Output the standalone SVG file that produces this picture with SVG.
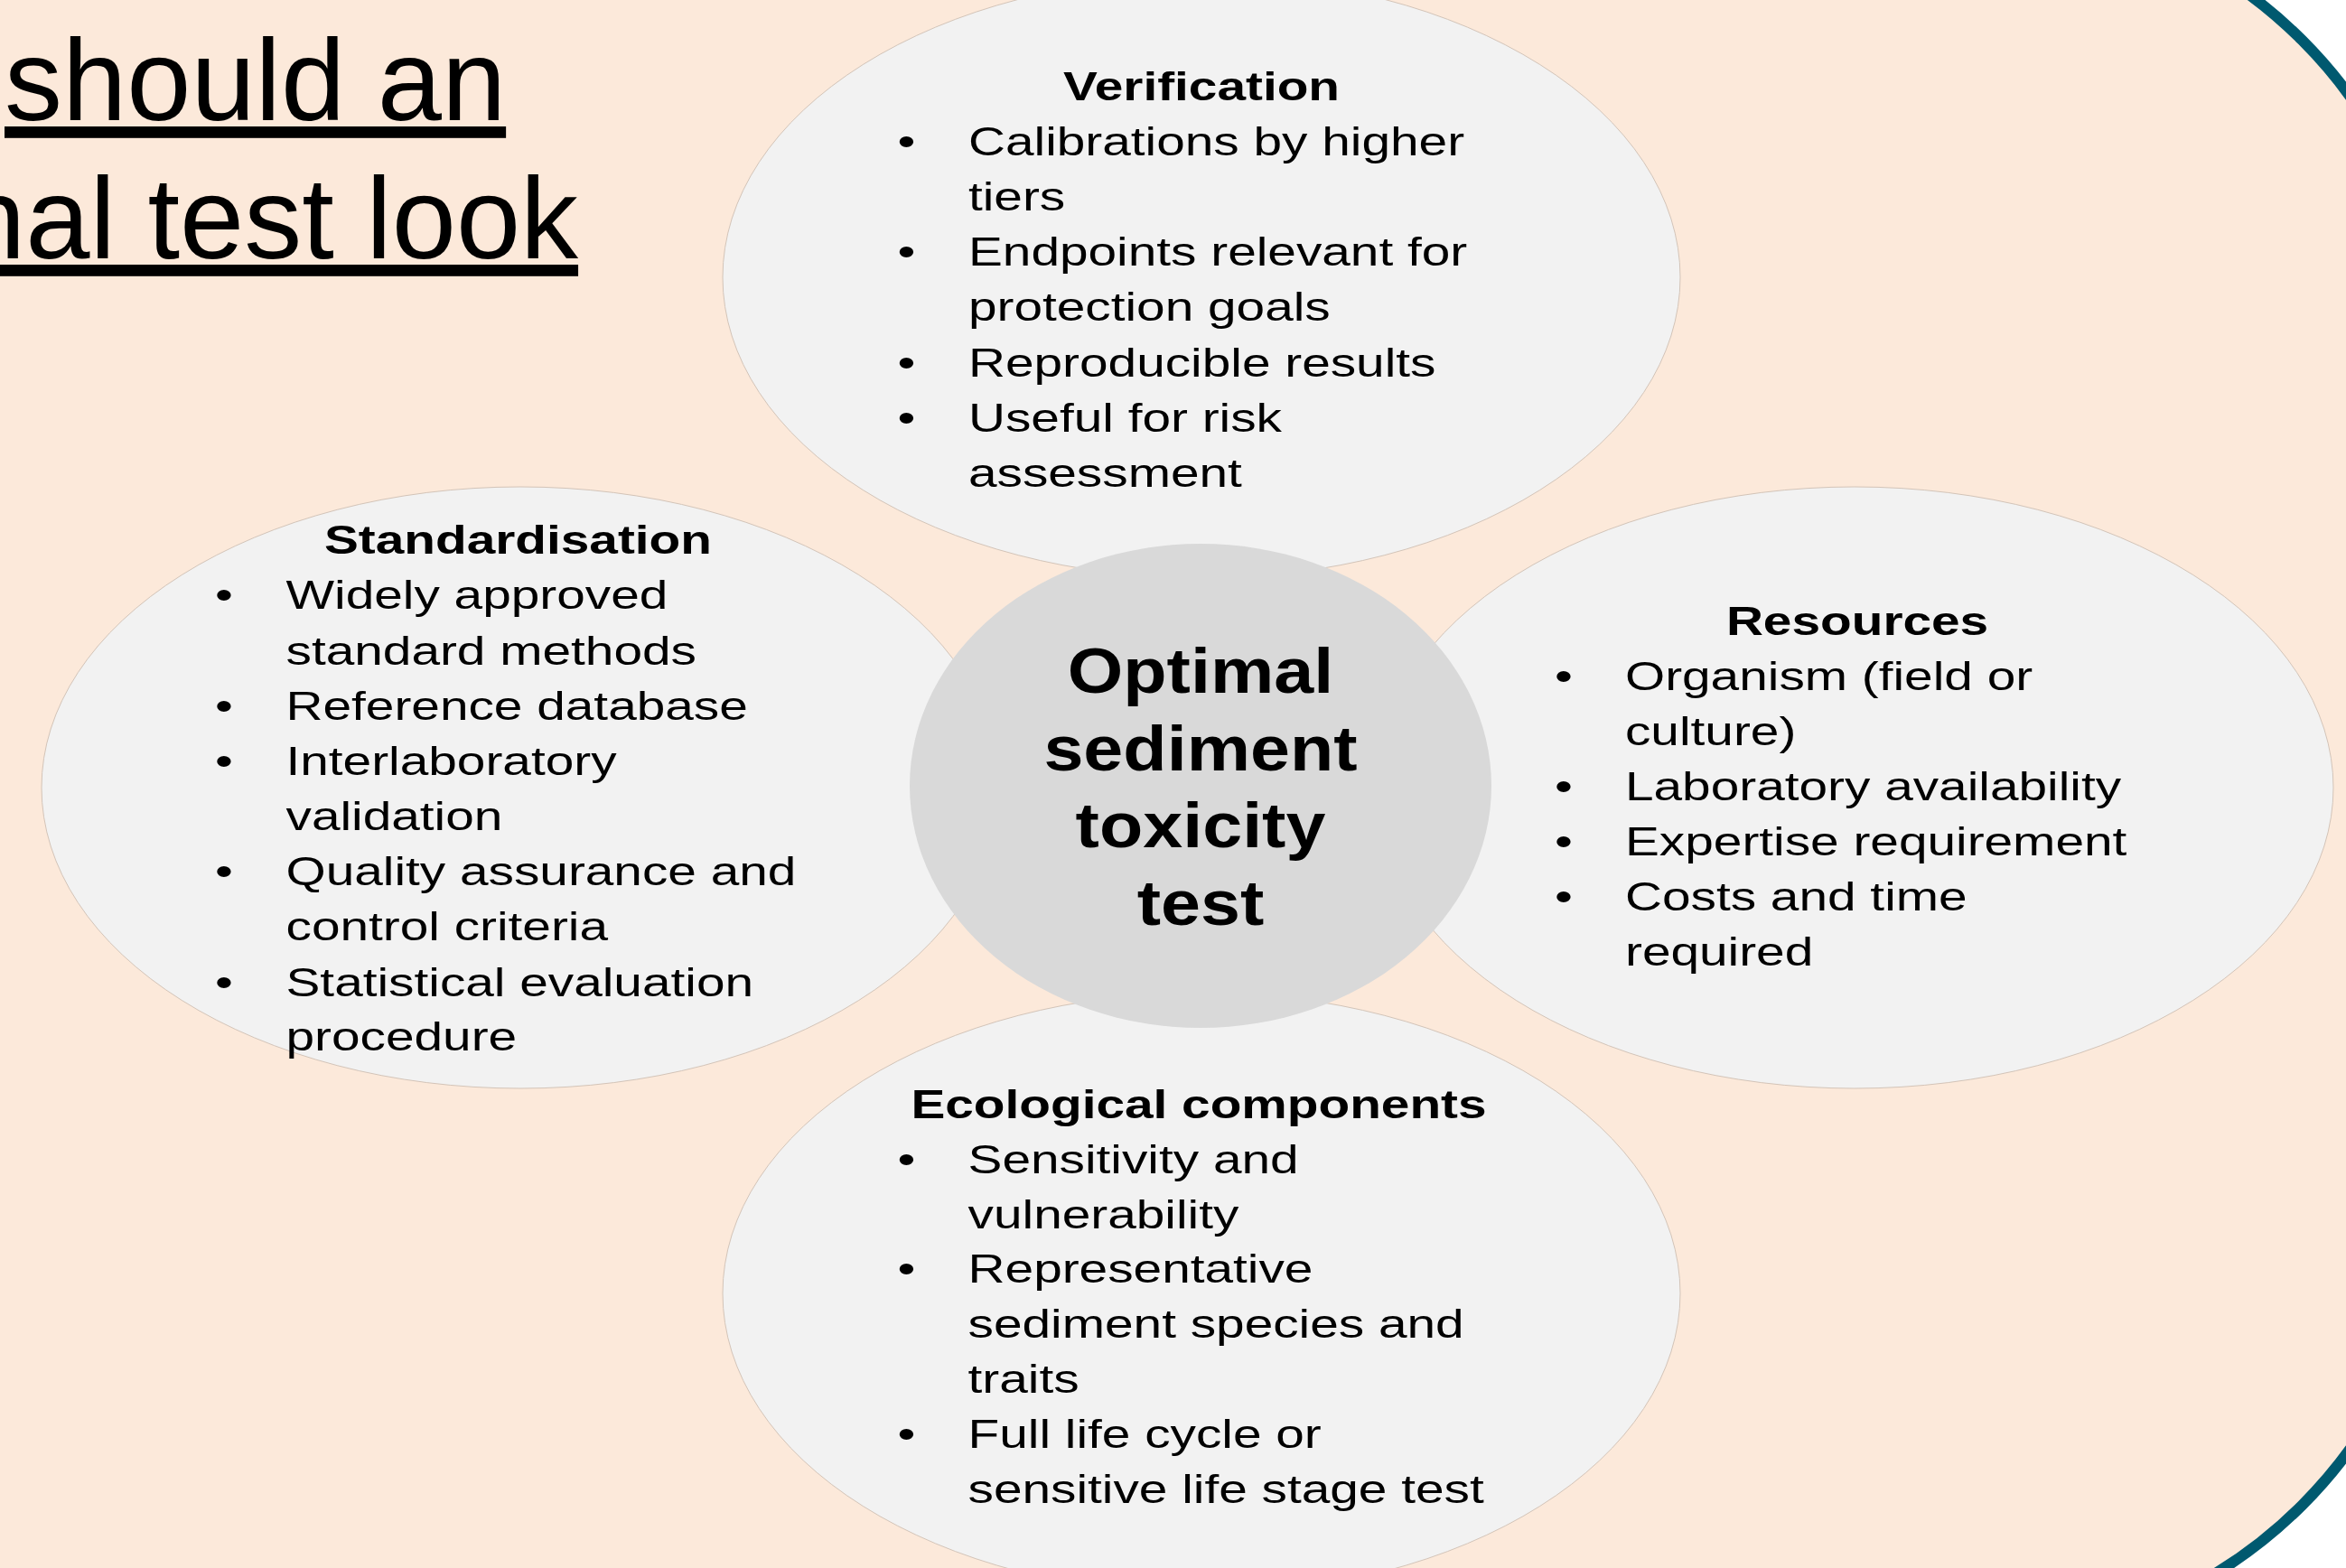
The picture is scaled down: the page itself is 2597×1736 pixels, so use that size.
<svg xmlns="http://www.w3.org/2000/svg" width="2597" height="1736" viewBox="0 0 2597 1736">
<style>
.t{font-family:"Liberation Sans",Arial,sans-serif;fill:#000;}
.title{font-size:128px;text-decoration:underline;}
.b{font-size:45px;}
.h{font-size:45px;font-weight:bold;text-anchor:middle;}
.c{font-size:70px;font-weight:bold;text-anchor:middle;}
.ell{fill:#F2F2F2;stroke:#D3C4B8;stroke-width:1;}
</style>
<rect x="0" y="0" width="2597" height="1736" fill="#FFFFFF"/>
<rect id="frame" x="-600" y="-106" width="3299" height="1923" rx="514" ry="514" fill="#FCE9DA" stroke="#00596F" stroke-width="12"/>
<g id="title" class="t">
<text class="t title" x="5" y="133">should an</text>
<text class="t title" x="-43" y="286">nal test look</text>
</g>
<g id="verification">
<ellipse class="ell" cx="1330" cy="307" rx="530" ry="333"/>
<g class="t" transform="scale(1.262,1)">
<text class="t h" x="1053.9" y="111">Verification</text>
<text class="t b" x="787.2" y="172">•</text>
<text class="t b" x="849.4" y="172">Calibrations by higher</text>
<text class="t b" x="849.4" y="233">tiers</text>
<text class="t b" x="787.2" y="294">•</text>
<text class="t b" x="849.4" y="294">Endpoints relevant for</text>
<text class="t b" x="849.4" y="355.5">protection goals</text>
<text class="t b" x="787.2" y="416.7">•</text>
<text class="t b" x="849.4" y="416.7">Reproducible results</text>
<text class="t b" x="787.2" y="478">•</text>
<text class="t b" x="849.4" y="478">Useful for risk</text>
<text class="t b" x="849.4" y="539">assessment</text>
</g>
</g>
<g id="standardisation">
<ellipse class="ell" cx="576" cy="872" rx="530" ry="333"/>
<g class="t" transform="scale(1.262,1)">
<text class="t h" x="454.4" y="613">Standardisation</text>
<text class="t b" x="188.6" y="674">•</text>
<text class="t b" x="250.8" y="674">Widely approved</text>
<text class="t b" x="250.8" y="735.6">standard methods</text>
<text class="t b" x="188.6" y="797">•</text>
<text class="t b" x="250.8" y="797">Reference database</text>
<text class="t b" x="188.6" y="858">•</text>
<text class="t b" x="250.8" y="858">Interlaboratory</text>
<text class="t b" x="250.8" y="919">validation</text>
<text class="t b" x="188.6" y="980">•</text>
<text class="t b" x="250.8" y="980">Quality assurance and</text>
<text class="t b" x="250.8" y="1041">control criteria</text>
<text class="t b" x="188.6" y="1102.6">•</text>
<text class="t b" x="250.8" y="1102.6">Statistical evaluation</text>
<text class="t b" x="250.8" y="1163">procedure</text>
</g>
</g>
<g id="resources">
<ellipse class="ell" cx="2053" cy="872" rx="530" ry="333"/>
<g class="t" transform="scale(1.262,1)">
<text class="t h" x="1629.2" y="703">Resources</text>
<text class="t b" x="1363.7" y="764">•</text>
<text class="t b" x="1425.5" y="764">Organism (field or</text>
<text class="t b" x="1425.5" y="825">culture)</text>
<text class="t b" x="1363.7" y="886">•</text>
<text class="t b" x="1425.5" y="886">Laboratory availability</text>
<text class="t b" x="1363.7" y="947">•</text>
<text class="t b" x="1425.5" y="947">Expertise requirement</text>
<text class="t b" x="1363.7" y="1008">•</text>
<text class="t b" x="1425.5" y="1008">Costs and time</text>
<text class="t b" x="1425.5" y="1069">required</text>
</g>
</g>
<g id="ecological">
<ellipse class="ell" cx="1330" cy="1432" rx="530" ry="333"/>
<g class="t" transform="scale(1.262,1)">
<text class="t h" x="1051.5" y="1238">Ecological components</text>
<text class="t b" x="787.2" y="1299">•</text>
<text class="t b" x="849.1" y="1299">Sensitivity and</text>
<text class="t b" x="849.1" y="1360">vulnerability</text>
<text class="t b" x="787.2" y="1420.4">•</text>
<text class="t b" x="849.1" y="1420.4">Representative</text>
<text class="t b" x="849.1" y="1481">sediment species and</text>
<text class="t b" x="849.1" y="1542">traits</text>
<text class="t b" x="787.2" y="1603">•</text>
<text class="t b" x="849.1" y="1603">Full life cycle or</text>
<text class="t b" x="849.1" y="1664">sensitive life stage test</text>
</g>
</g>
<g id="center">
<ellipse cx="1329" cy="870" rx="322" ry="268" fill="#D9D9D9"/>
<g class="t" transform="scale(1.13,1)">
<text class="t c" x="1176.1" y="767.5">Optimal</text>
<text class="t c" x="1176.1" y="853">sediment</text>
<text class="t c" x="1176.1" y="938.5">toxicity</text>
<text class="t c" x="1176.1" y="1024">test</text>
</g>
</g>
</svg>
